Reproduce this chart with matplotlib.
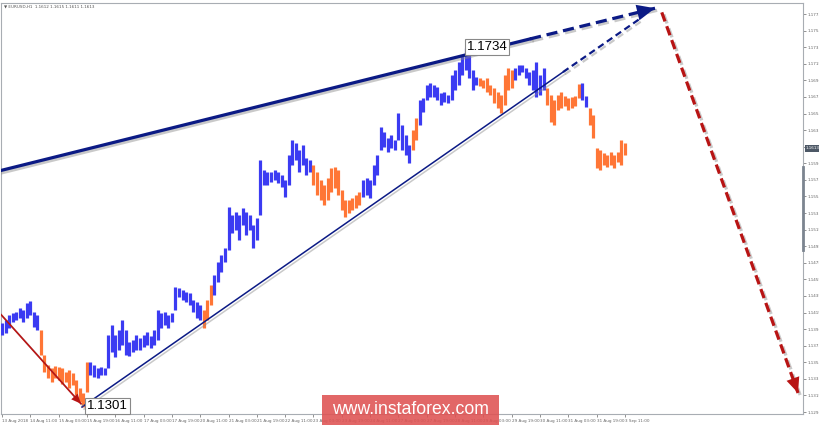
import numpy as np
import matplotlib
matplotlib.use("Agg")
import matplotlib.pyplot as plt
import matplotlib.patheffects as pe
from matplotlib.patches import Rectangle

# EURUSD H1, read as 2-hour bars (high / low)
hi = [1.1402, 1.1406, 1.1412, 1.1414, 1.1416, 1.1420, 1.1418, 1.1427, 1.1429, 1.1416,
      1.1412, 1.1394, 1.1364, 1.1352, 1.1348, 1.1350, 1.1349, 1.1348, 1.1343, 1.1346,
      1.1342, 1.1334, 1.1324, 1.1318, 1.1355, 1.1355, 1.1352, 1.1348, 1.1349, 1.1348,
      1.1388, 1.1400, 1.1388, 1.1394, 1.1406, 1.1394, 1.1379, 1.1382, 1.1388, 1.1384,
      1.1388, 1.1392, 1.1387, 1.1394, 1.1418, 1.1414, 1.1416, 1.1412, 1.1414, 1.1446,
      1.1445, 1.1442, 1.1440, 1.1439, 1.1430, 1.1428, 1.1424, 1.1418, 1.1430, 1.1448,
      1.1460, 1.1476, 1.1484, 1.1493, 1.1542, 1.1533, 1.1536, 1.1533, 1.1541, 1.1536,
      1.1533, 1.1521, 1.1529, 1.1599, 1.1587, 1.1584, 1.1584, 1.1587, 1.1584, 1.1581,
      1.1575, 1.1605, 1.1623, 1.1619, 1.1611, 1.1617, 1.1601, 1.1599, 1.1593, 1.1584,
      1.1575, 1.1569, 1.1577, 1.1589, 1.1590, 1.1587, 1.1563, 1.1551, 1.1551, 1.1553,
      1.1557, 1.1560, 1.1575, 1.1577, 1.1575, 1.1593, 1.1605, 1.1639, 1.1633, 1.1626,
      1.1629, 1.1623, 1.1656, 1.1641, 1.1629, 1.1617, 1.1635, 1.1650, 1.1671, 1.1674,
      1.1689, 1.1692, 1.1689, 1.1687, 1.1680, 1.1681, 1.1677, 1.1701, 1.1708, 1.1717,
      1.1726, 1.1734, 1.1726, 1.1708, 1.1699, 1.1698, 1.1695, 1.1698, 1.1689, 1.1686,
      1.1681, 1.1677, 1.1701, 1.1710, 1.1708, 1.1710, 1.1714, 1.1714, 1.1710, 1.1705,
      1.1708, 1.1717, 1.1701, 1.1710, 1.1686, 1.1677, 1.1671, 1.1677, 1.1681, 1.1676,
      1.1674, 1.1675, 1.1676, 1.1691, 1.1692, 1.1676, 1.1662, 1.1653, 1.1613, 1.1611,
      1.1607, 1.1605, 1.1609, 1.1605, 1.1609, 1.1623, 1.1619]
lo = [1.1388, 1.1390, 1.1396, 1.1404, 1.1406, 1.1408, 1.1404, 1.1408, 1.1412, 1.1397,
      1.1394, 1.1364, 1.1343, 1.1336, 1.1331, 1.1336, 1.1334, 1.1329, 1.1331, 1.1324,
      1.1328, 1.1315, 1.1307, 1.1301, 1.1319, 1.1340, 1.1337, 1.1336, 1.1340, 1.1340,
      1.1348, 1.1367, 1.1361, 1.1370, 1.1376, 1.1364, 1.1363, 1.1367, 1.1370, 1.1370,
      1.1373, 1.1376, 1.1372, 1.1376, 1.1382, 1.1396, 1.1400, 1.1396, 1.1404, 1.1418,
      1.1434, 1.1430, 1.1428, 1.1424, 1.1416, 1.1408, 1.1406, 1.1396, 1.1406, 1.1424,
      1.1436, 1.1452, 1.1464, 1.1476, 1.1490, 1.1511, 1.1514, 1.1502, 1.1521, 1.1508,
      1.1514, 1.1493, 1.1502, 1.1533, 1.1569, 1.1569, 1.1572, 1.1575, 1.1571, 1.1566,
      1.1554, 1.1569, 1.1593, 1.1599, 1.1584, 1.1593, 1.1581, 1.1584, 1.1569, 1.1557,
      1.1551, 1.1545, 1.1551, 1.1560, 1.1565, 1.1557, 1.1539, 1.1530, 1.1535, 1.1539,
      1.1541, 1.1545, 1.1554, 1.1557, 1.1553, 1.1569, 1.1581, 1.1611, 1.1615, 1.1609,
      1.1613, 1.1611, 1.1623, 1.1611, 1.1605, 1.1595, 1.1611, 1.1623, 1.1641, 1.1657,
      1.1671, 1.1675, 1.1675, 1.1671, 1.1665, 1.1669, 1.1668, 1.1671, 1.1683, 1.1689,
      1.1701, 1.1708, 1.1698, 1.1683, 1.1689, 1.1688, 1.1686, 1.1681, 1.1677, 1.1668,
      1.1662, 1.1656, 1.1665, 1.1683, 1.1686, 1.1695, 1.1701, 1.1705, 1.1698, 1.1689,
      1.1683, 1.1675, 1.1677, 1.1683, 1.1665, 1.1645, 1.1641, 1.1659, 1.1662, 1.1664,
      1.1659, 1.1662, 1.1664, 1.1674, 1.1671, 1.1663, 1.1641, 1.1626, 1.1589, 1.1587,
      1.1593, 1.1590, 1.1593, 1.1589, 1.1597, 1.1593, 1.1605]

# bars belonging to corrective (orange) waves
down_runs = [(11, 24), (57, 59), (88, 101), (116, 117), (135, 144), (154, 163), (166, 176)]

time_labels = ["13 Aug 2018", "14 Aug 11:00", "15 Aug 03:00", "15 Aug 19:00", "16 Aug 11:00",
               "17 Aug 03:00", "17 Aug 19:00", "20 Aug 11:00", "21 Aug 03:00", "21 Aug 19:00",
               "22 Aug 11:00", "23 Aug 03:00", "23 Aug 19:00", "24 Aug 11:00", "27 Aug 03:00",
               "27 Aug 19:00", "28 Aug 11:00", "29 Aug 03:00", "29 Aug 19:00", "30 Aug 11:00",
               "31 Aug 03:00", "31 Aug 19:00", "3 Sep 11:00"]
price_ticks = np.arange(1.1295, 1.17751, 0.002)

# analysis lines (bar index, price)
upper_t, upper_p = [-0.6, 149.2, 184.5], [1.1586, 1.1745, 1.1782]
lower_t, lower_p = [22.6, 158.5, 180.8], [1.1301, 1.1705, 1.1771]
red_t, red_p = [-0.6, 22.3], [1.1414, 1.1305]
fcst_t, fcst_p = [186.4, 224.9], [1.1777, 1.1318]

quote = "EURUSD,H1  1.1612 1.1615 1.1611 1.1613"
last_price = 1.1613

BLUE = "#3b3bf2"
ORANGE = "#ff7636"
NAVY = "#0b1a85"
RED = "#b81414"

fig = plt.figure(figsize=(8.2, 4.26), dpi=100)
ax = fig.add_axes([1 / 820, 12 / 426, 802 / 820, 411 / 426])

x = np.arange(len(hi))
cols = [BLUE] * len(hi)
for a, b in down_runs:
    for i in range(a, b + 1):
        cols[i] = ORANGE
ax.vlines(x, lo, hi, colors=cols, linewidth=2.3, zorder=3)

shadow = [pe.SimpleLineShadow(offset=(1.5, -1.5), shadow_color="#888888", alpha=0.45), pe.Normal()]

def arrow_head(t, p, color, scale):
    ax.annotate("", xy=(t[-1], p[-1]), xytext=(t[-2], p[-2]),
                arrowprops=dict(arrowstyle="-|>,head_length=0.5,head_width=0.22", color=color,
                                lw=0, shrinkA=0, shrinkB=0, mutation_scale=scale), zorder=6)

# upper channel line
ax.plot(upper_t[:2], upper_p[:2], color=NAVY, lw=2.3, zorder=5, path_effects=shadow)
ax.plot(upper_t[1:], upper_p[1:], color=NAVY, lw=2.3, ls=(0, (3.5, 1.8)), zorder=5, path_effects=shadow)
arrow_head(upper_t, upper_p, NAVY, 26)

# lower trend line
ax.plot(lower_t[:2], lower_p[:2], color=NAVY, lw=1.1, zorder=5, path_effects=shadow)
ax.plot(lower_t[1:], lower_p[1:], color=NAVY, lw=1.6, ls=(0, (3, 1.8)), zorder=5, path_effects=shadow)

# red wave line into the low
ax.plot(red_t, red_p, color=RED, lw=1.2, zorder=5, path_effects=shadow)
arrow_head(red_t, red_p, RED, 14)

# forecast
ax.plot(fcst_t, fcst_p, color=RED, lw=2.3, ls=(0, (3, 1.6)), zorder=5, path_effects=shadow)
arrow_head(fcst_t, fcst_p, RED, 22)

# extreme labels
i_hi = int(np.argmax(hi))
i_lo = int(np.argmin(lo))
box = dict(boxstyle="square,pad=0.15", fc="white", ec="#888888", lw=0.8)
ax.text(i_hi + 0.3, hi[i_hi] + 0.0001, f"{hi[i_hi]:.4f}", fontsize=9.5, family="Liberation Sans",
        ha="left", va="center", bbox=box, zorder=7)
ax.text(i_lo + 1.0, lo[i_lo] + 0.0001, f"{lo[i_lo]:.4f}", fontsize=9.5, family="Liberation Sans",
        ha="left", va="center", bbox=box, zorder=7)

ax.set_xlim(-0.28, 226.3)
ax.set_ylim(1.12926, 1.17883)

ax.yaxis.tick_right()
ax.set_yticks(price_ticks)
ax.set_yticklabels([f"{v:.4f}" for v in price_ticks])
ax.tick_params(axis="y", labelsize=3, colors="#666666", length=2, width=0.5, pad=1)
ax.set_xticks(np.arange(len(time_labels)) * 8)
ax.set_xticklabels(time_labels, ha="left")
ax.tick_params(axis="x", labelsize=3, colors="#666666", length=2, width=0.5, pad=1.5)
for s in ax.spines.values():
    s.set_color("#a8adb3")
    s.set_linewidth(0.8)

# current price marker
ax.text(1.0035, last_price, f"{last_price:.4f}", transform=ax.get_yaxis_transform(), fontsize=3,
        color="white", ha="left", va="center", zorder=8,
        bbox=dict(boxstyle="square,pad=0.3", fc="#4d5866", ec="none"), clip_on=False)
ax.plot([1.0, 1.0], [1.1590, 1.1490], transform=ax.get_yaxis_transform(), color="#7c8590",
        lw=2, clip_on=False, zorder=8)

fig.text(4 / 820, 1 - 6 / 426, "\u25bc " + quote, fontsize=3, color="#555555", va="center")

# watermark
fig.patches.append(Rectangle((322 / 820, 1 / 426), 177 / 820, 30 / 426, transform=fig.transFigure,
                             fc="#de5252", ec="none", alpha=0.88, zorder=10))
fig.text(410 / 820, 16 / 426, "www.instaforex.com", fontsize=12.7, family="Liberation Sans",
         color="white", ha="center", va="center", zorder=11)

plt.savefig("out.png", dpi=100)
